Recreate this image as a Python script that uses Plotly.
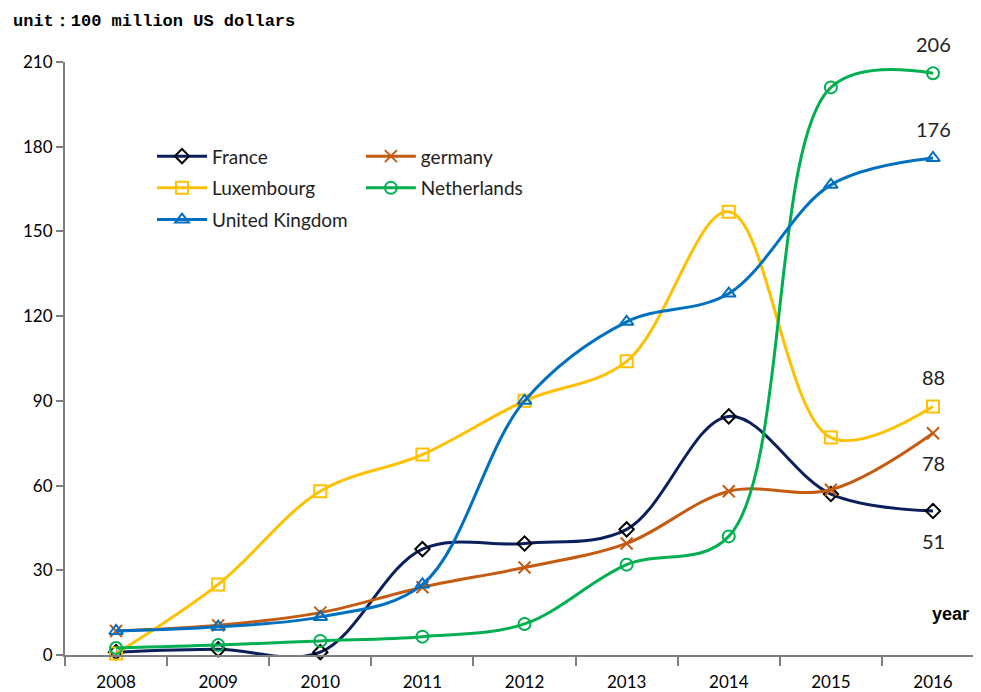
import plotly.graph_objects as go

years = ["2008", "2009", "2010", "2011", "2012", "2013", "2014", "2015", "2016"]
france = [1, 2, 1, 37.5, 39.5, 44.5, 84.5, 57, 51]
germany = [8.5, 10.5, 15, 24, 31, 39.5, 58, 58.5, 78.5]
luxembourg = [0.5, 25, 58, 71, 90, 104, 157, 77, 88]
netherlands = [2.5, 3.5, 5, 6.5, 11, 32, 42, 201, 206]
uk = [8.5, 10, 13.5, 25, 90, 118, 128, 166.5, 176]

end_labels = [("206", netherlands[-1], 29), ("176", uk[-1], 29),
              ("88", luxembourg[-1], 30), ("78", germany[-1], -30), ("51", france[-1], -30)]

series = [
    ("France", france, "#0a1f5c", "diamond-open", "black", 11, "legend"),
    ("germany", germany, "#c55a11", "x-thin", "#c55a11", 12, "legend2"),
    ("Luxembourg", luxembourg, "#ffc000", "square-open", "#ffc000", 12, "legend"),
    ("Netherlands", netherlands, "#00b050", "circle-open", "#00b050", 12, "legend2"),
    ("United Kingdom", uk, "#0070c0", "triangle-up-open", "#0070c0", 12, "legend"),
]

fig = go.Figure()
for name, vals, col, sym, mcol, msize, leg in series:
    fig.add_trace(go.Scatter(
        x=years, y=vals, name=name, mode="lines+markers",
        line=dict(color=col, width=3, shape="spline", smoothing=1.0),
        marker=dict(symbol=sym, size=msize, color=mcol,
                    line=dict(color=mcol, width=2)),
        legend=leg, legendgroup=name, cliponaxis=False,
    ))

ann = []
last = len(years) - 1
for txt, yv, shift in end_labels:
    ann.append(dict(xref="x", yref="y", x=last, y=yv, text=txt, showarrow=False, yshift=shift,
                    font=dict(family="Lato, sans-serif", size=20, color="#222")))
ann.append(dict(xref="paper", yref="paper", x=-0.059, y=1.069, xanchor="left", yanchor="middle",
                text="<b>unit：100 million US dollars</b>", showarrow=False,
                font=dict(family="Liberation Mono, monospace", size=17, color="black")))
ann.append(dict(xref="paper", yref="y", x=0.967, y=14.5, xanchor="center",
                text="<b>year</b>", showarrow=False,
                font=dict(family="Liberation Sans Narrow, Arial Narrow, sans-serif", size=18, color="black")))

legfont = dict(family="Lato, sans-serif", size=19, color="#222")
tickfont = dict(family="Lato, sans-serif", size=17, color="black")
fig.update_layout(
    width=973, height=684,
    margin=dict(l=57, r=0, t=54, b=37),
    paper_bgcolor="white", plot_bgcolor="white",
    showlegend=True,
    legend=dict(x=0.095, y=0.873, xanchor="left", yanchor="top", bgcolor="rgba(0,0,0,0)",
                font=legfont, tracegroupgap=4, itemwidth=50),
    legend2=dict(x=0.323, y=0.873, xanchor="left", yanchor="top", bgcolor="rgba(0,0,0,0)",
                 font=legfont, tracegroupgap=4, itemwidth=50),
    annotations=ann,
    xaxis=dict(type="category", range=[-0.5, 8.47], tickson="boundaries", automargin=False,
               showline=True, linecolor="#7f7f7f", linewidth=2,
               ticks="outside", ticklen=9, tickcolor="#7f7f7f", tickwidth=2,
               ticklabelstandoff=11,
               showgrid=False, zeroline=False, tickfont=tickfont),
    yaxis=dict(range=[0, 210], tickvals=[0, 30, 60, 90, 120, 150, 180, 210], automargin=False,
               showline=True, linecolor="#7f7f7f", linewidth=2,
               ticks="outside", ticklen=7, tickcolor="#7f7f7f", tickwidth=2,
               showgrid=False, zeroline=False, tickfont=tickfont),
)

fig.write_html("out.html")
